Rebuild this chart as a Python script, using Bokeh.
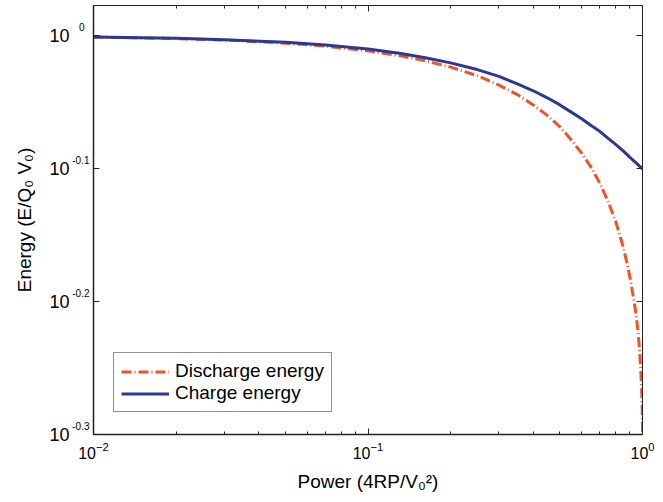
from bokeh.plotting import figure
from bokeh.models import (FixedTicker, LogAxis, Legend, LegendItem, Range1d,
                          CustomJSTickFormatter, LogScale)
from bokeh.embed import file_html
from bokeh.resources import INLINE

# ---- data ----
discharge_power = [0.01, 0.02, 0.03, 0.05, 0.07, 0.1, 0.13, 0.16, 0.2, 0.25, 0.3,
                   0.35, 0.4, 0.45, 0.5, 0.55, 0.6, 0.65, 0.7, 0.75, 0.8, 0.85,
                   0.88, 0.9, 0.92, 0.94, 0.96, 0.97, 0.98, 0.985, 0.99, 0.994,
                   0.997, 0.999, 1.0]
discharge_energy = [0.9975, 0.995, 0.9924, 0.987, 0.982, 0.974, 0.966, 0.958,
                    0.947, 0.933, 0.918, 0.903, 0.887, 0.871, 0.854, 0.835,
                    0.816, 0.796, 0.774, 0.750, 0.724, 0.694, 0.673, 0.658,
                    0.641, 0.624, 0.603, 0.589, 0.572, 0.561, 0.550, 0.539,
                    0.527, 0.516, 0.500]
charge_power = [0.01, 0.015, 0.02, 0.03, 0.05, 0.07, 0.1, 0.13, 0.16, 0.2, 0.25,
                0.3, 0.35, 0.4, 0.45, 0.5, 0.55, 0.6, 0.65, 0.7, 0.75, 0.8, 0.85,
                0.9, 0.95, 1.0]
charge_energy = [0.9977, 0.9966, 0.9954, 0.9931, 0.9885, 0.984, 0.977, 0.970,
                 0.963, 0.954, 0.943, 0.932, 0.920, 0.909, 0.898, 0.887, 0.876,
                 0.866, 0.856, 0.847, 0.837, 0.828, 0.819, 0.810, 0.802, 0.794]

x_ticks = [0.01, 0.1, 1.0]
x_minor = [k * d for d in (0.01, 0.1) for k in range(2, 10)]
y_tick_exponents = [0.0, -0.1, -0.2, -0.3]
y_tick_texts = ["0\u2002", "-0.1", "-0.2", "-0.3"]
y_ticks = [10 ** e for e in y_tick_exponents]

FONT = "Liberation Sans"
RED = "#EF5327"
BLUE = "#2D3891"
AX = "#222222"
Y_LO, Y_HI = -0.3, 0.0227      # log10 limits of the energy axis
SUP = 0.0062                   # raise of the exponent texts (log10 units)

p = figure(width=655, height=494, x_axis_type="log", y_axis_type="log",
           x_range=Range1d(0.01, 1.0), y_range=Range1d(10 ** Y_LO, 10 ** Y_HI),
           output_backend="svg", toolbar_location=None,
           min_border_left=93, min_border_right=13, min_border_top=5,
           min_border_bottom=55)
p.grid.visible = False
p.outline_line_color = AX
p.outline_line_width = 1
p.background_fill_color = "white"
p.extra_y_ranges = {"sup": Range1d(10 ** (Y_LO - SUP), 10 ** (Y_HI - SUP))}
p.extra_y_scales = {"sup": LogScale()}

r_dis = p.line(discharge_power, discharge_energy, line_color=RED, line_width=3,
               line_dash="10 3 1 3")
r_chg = p.line(charge_power, charge_energy, line_color=BLUE, line_width=3)

# bottom axis
xa = p.xaxis[0]
xa.ticker = FixedTicker(ticks=x_ticks, minor_ticks=x_minor)
xa.major_tick_in = 6
xa.major_tick_out = 0
xa.minor_tick_in = 3
xa.minor_tick_out = 0
xa.axis_line_color = AX
xa.axis_line_width = 1.5
xa.major_tick_line_color = AX
xa.minor_tick_line_color = AX
xa.major_label_text_font = FONT
xa.major_label_text_font_size = "16px"
xa.major_label_text_color = "black"
xa.major_label_standoff = 7
xa.axis_label = "Power (4RP/V\u2080\u00b2)"
xa.axis_label_text_font = FONT
xa.axis_label_text_font_style = "normal"
xa.axis_label_text_font_size = "19px"
xa.axis_label_text_color = "black"
xa.axis_label_standoff = 9

# left axis: line and inside ticks only
ya = p.yaxis[0]
ya.ticker = FixedTicker(ticks=y_ticks, minor_ticks=[])
ya.formatter = CustomJSTickFormatter(code="return ''")
ya.major_tick_in = 6
ya.major_tick_out = 0
ya.major_label_standoff = 0
ya.axis_line_color = AX
ya.axis_line_width = 1.5
ya.major_tick_line_color = AX

# exponents of the y tick labels (raised through a slightly shifted range)
ya_sup = LogAxis(y_range_name="sup",
                 ticker=FixedTicker(ticks=y_ticks, minor_ticks=[]),
                 major_label_overrides={t: s for t, s in zip(y_ticks, y_tick_texts)},
                 major_tick_in=0, major_tick_out=0, minor_tick_in=0, minor_tick_out=0,
                 axis_line_color=None, major_label_standoff=4,
                 major_label_text_font=FONT, major_label_text_font_size="10px",
                 major_label_text_color="black")
p.add_layout(ya_sup, "left")

# bases "10" of the y tick labels and the y axis title
ya_base = LogAxis(ticker=FixedTicker(ticks=y_ticks, minor_ticks=[]),
                  major_label_overrides={t: "10" for t in y_ticks},
                  major_tick_in=0, major_tick_out=0, minor_tick_in=0, minor_tick_out=0,
                  axis_line_color=None, major_label_standoff=0,
                  major_label_text_font=FONT, major_label_text_font_size="18px",
                  major_label_text_color="black",
                  axis_label="Energy (E/Q\u2080 V\u2080)",
                  axis_label_text_font=FONT, axis_label_text_font_style="normal",
                  axis_label_text_font_size="19px", axis_label_text_color="black",
                  axis_label_standoff=11)
p.add_layout(ya_base, "left")

# top and right axes: ticks only (inside)
top = LogAxis(ticker=FixedTicker(ticks=x_ticks, minor_ticks=x_minor),
              formatter=CustomJSTickFormatter(code="return ''"),
              major_tick_in=6, major_tick_out=0, minor_tick_in=3, minor_tick_out=0,
              major_label_standoff=0,
              axis_line_color=AX, major_tick_line_color=AX,
              minor_tick_line_color=AX)
p.add_layout(top, "above")
right = LogAxis(ticker=FixedTicker(ticks=y_ticks, minor_ticks=[]),
                formatter=CustomJSTickFormatter(code="return ''"),
                major_tick_in=6, major_tick_out=0, minor_tick_in=0, minor_tick_out=0,
                major_label_standoff=0,
                axis_line_color=AX, major_tick_line_color=AX)
p.add_layout(right, "right")

legend = Legend(items=[LegendItem(label="Discharge energy", renderers=[r_dis]),
                       LegendItem(label="Charge energy", renderers=[r_chg])],
                location=(20, 22), border_line_color=AX, border_line_width=1,
                background_fill_color="white", background_fill_alpha=1,
                label_text_font=FONT, label_text_font_size="19px",
                label_text_color="black",
                glyph_width=48, glyph_height=21, label_height=21,
                label_standoff=6, padding=7, spacing=0, margin=0)
p.add_layout(legend)

open("out.html", "w").write(file_html(p, INLINE))
